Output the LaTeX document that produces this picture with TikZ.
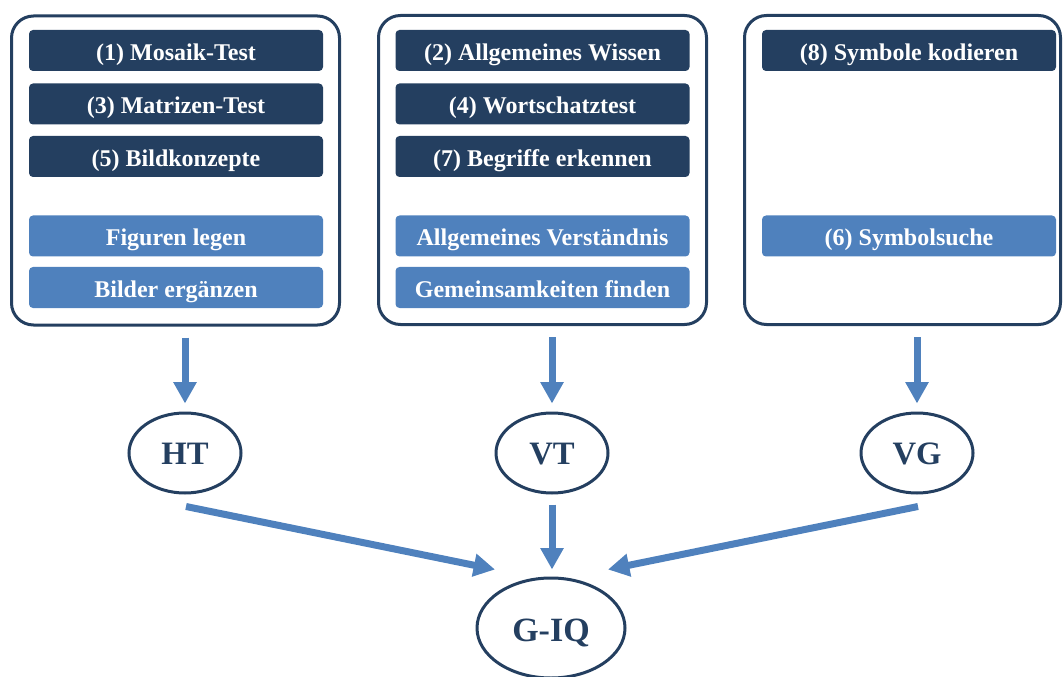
\documentclass[tikz,border=0pt]{standalone}
\usepackage{fontspec}
\setmainfont{Liberation Serif}
\usetikzlibrary{shapes.geometric,arrows.meta,calc}
\definecolor{navy}{HTML}{243F60}
\definecolor{skyblue}{HTML}{4F81BD}

\begin{document}
\begin{tikzpicture}[x=0.75pt,y=-0.75pt,
  frame/.style={draw=navy, line width=2.25pt, rounded corners=16.5pt,
    minimum height=231.75pt, inner sep=0},
  testbox/.style={rounded corners=3pt, minimum width=220.5pt, minimum height=30.75pt,
    inner sep=0, text=white, text height=14.5pt, text depth=0pt,
    font=\fontsize{18}{20}\selectfont\bfseries},
  core/.style={testbox, fill=navy},
  extra/.style={testbox, fill=skyblue},
  index/.style={ellipse, draw=navy, line width=2.25pt, minimum width=84pt,
    minimum height=60pt, inner sep=0, text=navy, text height=17.5pt, text depth=0.5pt,
    font=\fontsize{24.5}{28}\selectfont\bfseries},
  flow/.style={draw=skyblue, line width=5.25pt, -{Triangle[length=16pt,width=16.5pt]}}
]
\useasboundingbox (0,0) rectangle (1063,677);

% group frames
\node[frame, minimum width=246pt] (g1) at (175.5,170.5) {};
\node[frame, minimum width=246pt] (g2) at (542.5,170) {};
\node[frame, minimum width=237pt] (g3) at (902.5,170) {};

% subtests, group 1
\node[core]  (t1) at (176,50.5)  {(1) Mosaik-Test};
\node[core]  (t3) at (176,104)   {(3) Matrizen-Test};
\node[core]  (t5) at (176,156.5) {(5) Bildkonzepte};
\node[extra] (fl) at (176,236)   {Figuren legen};
\node[extra] (be) at (176,287.5) {Bilder ergänzen};

% subtests, group 2
\node[core]  (t2) at (542.5,50.5)  {(2) Allgemeines Wissen};
\node[core]  (t4) at (542.5,104)   {(4) Wortschatztest};
\node[core]  (t7) at (542.5,156.5) {(7) Begriffe erkennen};
\node[extra] (av) at (542.5,236)   {Allgemeines Verständnis};
\node[extra] (gf) at (542.5,287.5) {Gemeinsamkeiten finden};

% subtests, group 3
\node[core]  (t8) at (909,50.5) {(8) Symbole kodieren};
\node[extra] (t6) at (909,236)  {(6) Symbolsuche};

% indices
\node[index] (ht) at (185,453) {HT};
\node[index] (vt) at (552,453) {VT};
\node[index] (vg) at (917,453) {VG};
\node[index, minimum width=111pt, minimum height=75pt, text height=20.5pt,
  font=\fontsize{25.5}{30}\selectfont\bfseries] (giq) at (551,628) {G-IQ};

% connectors
\draw[flow, shorten <=8.25pt, shorten >=6pt] (ht.north |- g1.south) -- (ht.north);
\draw[flow, shorten <=8.25pt, shorten >=6pt] (vt.north |- g2.south) -- (vt.north);
\draw[flow, shorten <=8.25pt, shorten >=6pt] (vg.north |- g3.south) -- (vg.north);
\draw[flow, shorten <=7.5pt, shorten >=5.25pt] (vt.south) -- (vt.south |- giq.north);

\coordinate (htout) at ($(ht.south)+(1,12)$);
\coordinate (vgout) at ($(vg.south)+(1,12)$);
\coordinate (giqL) at ($(giq.north)+(-56,-7)$);
\coordinate (giqR) at ($(giq.north)+(57,-7)$);
\draw[flow] (htout) -- (giqL);
\draw[flow] (vgout) -- (giqR);
\end{tikzpicture}
\end{document}
